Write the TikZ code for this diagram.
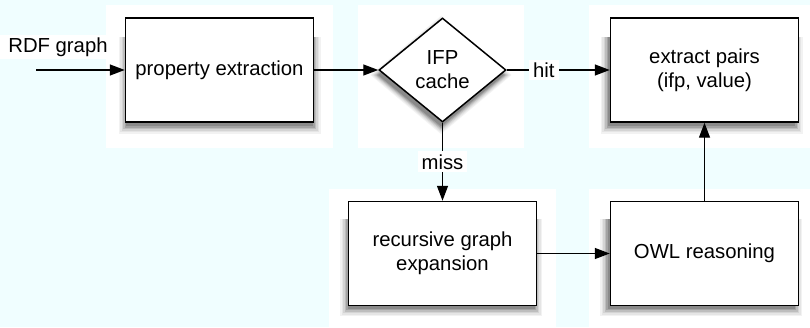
\documentclass[tikz,border=0pt]{standalone}
\usepackage{fontspec}
\setmainfont{Liberation Sans}
\definecolor{bgCyan}{HTML}{F0FEFF}
\definecolor{shadowGray}{HTML}{000000}
\usetikzlibrary{arrows.meta,positioning,shapes.geometric}

\begin{document}
\begin{tikzpicture}[
    x=1pt, y=1pt,
    node distance=64pt and 64pt,
    every node/.style={font=\fontsize{20.3}{24}\selectfont},
    box/.style={draw, line width=1.5pt, fill=white, minimum width=188pt,
                minimum height=104pt, align=center},
    test/.style={box, diamond, minimum width=127pt, minimum height=104pt,
                 inner sep=0pt},
    lbl/.style={fill=white, inner xsep=4pt, inner ysep=3pt},
    patch/.style={fill=white},
    arr/.style={-{Triangle[length=15pt, width=11pt]}, line width=1.4pt}
  ]
    \fill[bgCyan] (0,0) rectangle (810,327);
    \useasboundingbox (0,0) rectangle (810,327);

    % White panels behind the steps
    \fill[patch] (106,322) rectangle (333,179);
    \fill[patch] (358,322) rectangle (524,179);
    \fill[patch] (589,322) rectangle (810,179);
    \fill[patch] (329,138) rectangle (556,0);
    \fill[patch] (589,138) rectangle (810,0);

    % Soft shadows, 5pt below each shape
    \foreach \e/\tint in {7/5,5.5/10,4/17,2.5/26,1/36,-0.5/46} {
      \fill[shadowGray!\tint] (125.5-\e,200-\e) rectangle (313.5+\e,290);
      \fill[shadowGray!\tint] (607.5-\e,200-\e) rectangle (795.5+\e,290);
      \fill[shadowGray!\tint] (347-\e,18-\e) rectangle (535+\e,108);
      \fill[shadowGray!\tint] (607-\e,18-\e) rectangle (795+\e,108);
      \fill[shadowGray!\tint] (441,304+\e) -- (504.5+\e,252) -- (441,200-\e)
        -- (377.5-\e,252) -- cycle;
    }

    \node[box] (prop) at (219.5,257) {property extraction};
    \node[test, right=64pt of prop] (cache) {IFP\\cache};
    \node[box, right=103pt of cache] (pairs) {extract pairs\\(ifp, value)};
    \node[box, below=78pt of cache] (expand) {recursive graph\\expansion};
    \node[box, right=72.5pt of expand] (owl) {OWL reasoning};

    % Input
    \coordinate (src) at (36,257);
    \node[lbl, inner xsep=8pt] (rdf) at (58,280) {RDF graph};

    \draw[arr] (src) -- (prop);
    \draw[arr] (prop) -- (cache);
    \draw[arr] (cache) -- node[lbl, pos=0.36] (hit) {hit} (pairs);
    \draw[arr] (cache) -- node[lbl] (miss) {miss} (expand);
    \draw[arr] (expand) -- (owl);
    \draw[arr] (owl) -- (pairs);
  \end{tikzpicture}
\end{document}
